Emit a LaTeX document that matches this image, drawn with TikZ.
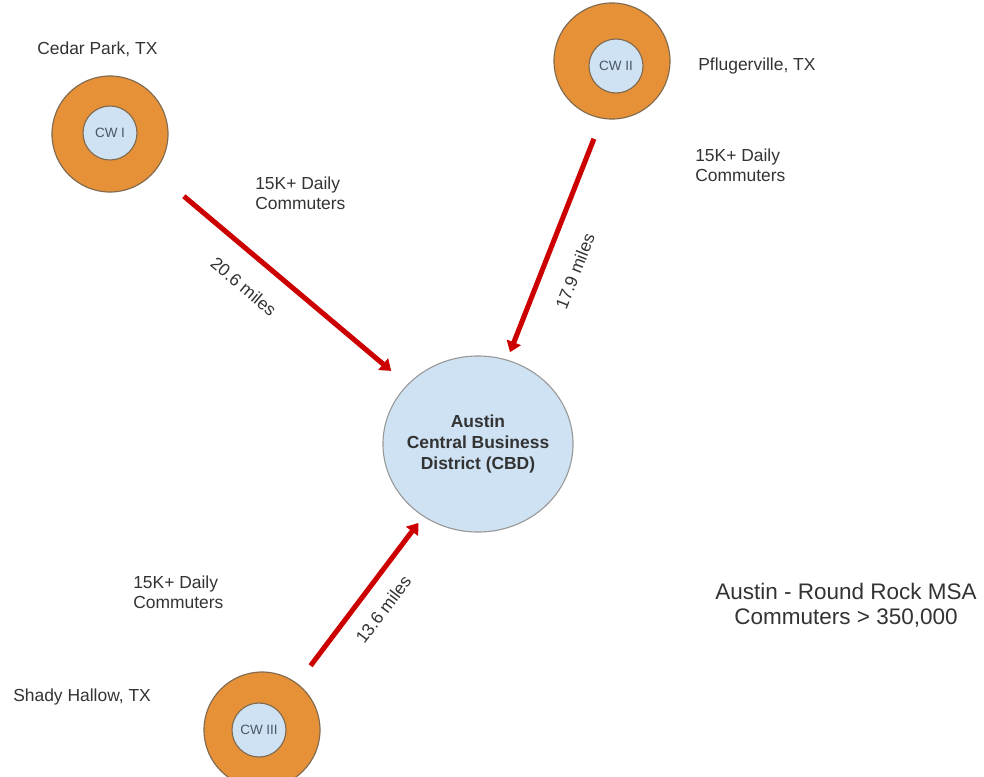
\documentclass[tikz,border=0pt]{standalone}
\usepackage{fontspec}
\setmainfont{Liberation Sans}
\usetikzlibrary{arrows.meta,positioning,shapes.geometric}
\definecolor{cworange}{HTML}{E69138}
\definecolor{cwblue}{HTML}{CFE2F3}
\definecolor{cwedge}{HTML}{7F6A4F}
\definecolor{cwred}{HTML}{CC0000}
\definecolor{cwlabel}{HTML}{4A5566}
\definecolor{txtgray}{HTML}{333333}
\tikzset{
  ring/.style={circle, draw=cwedge, fill=cworange, line width=0.8pt, minimum size=2.9cm, inner sep=0pt},
  core/.style={circle, draw=cwedge, fill=cwblue, line width=0.8pt, minimum size=1.35cm, inner sep=0pt, font=\fontsize{9.6}{11}\selectfont, text=cwlabel},
  hub/.style={ellipse, draw=gray!80, fill=cwblue, line width=0.8pt, minimum width=4.75cm, minimum height=4.4cm, inner sep=0pt},
  lbl/.style={font=\fontsize{12.4}{14.2}\selectfont, text=txtgray, inner sep=0pt, align=left},
  dist/.style={font=\fontsize{12.4}{14.2}\selectfont, text=txtgray, inner sep=0pt, sloped},
  arr/.style={-{Triangle[length=7.5pt,width=10.5pt]}, line width=3.6pt, cwred},
}
\begin{document}
\begin{tikzpicture}[x=0.025cm, y=-0.025cm]
  \useasboundingbox (0,0) rectangle (984,776);
  \clip (0,0) rectangle (984,776);

  % --- Hub ---
  \node[hub] (hub) at (478,444) {};
  \node[font=\bfseries\fontsize{12.4}{15}\selectfont, text=txtgray, align=center] (hubtxt) at (hub) {Austin\\Central Business\\District (CBD)};

  % --- Cedar Park ---
  \node[ring] (cedar) at (110,134) {};
  \node[core] (cw1) at (110,133) {CW I};
  \node[lbl, anchor=west] (cedarname) at (37,49) {Cedar Park, TX};
  \node[lbl, anchor=west] (cedarcount) at (255,193) {15K+ Daily\\Commuters};

  % --- Pflugerville ---
  \node[ring] (pflug) at (612,61) {};
  \node[core] (cw2) at (616,66) {CW II};
  \node[lbl, anchor=west] (pflugname) at (698,66) {Pflugerville, TX};
  \node[lbl, anchor=west] (pflugcount) at (695,165) {15K+ Daily\\Commuters};

  % --- Shady Hallow ---
  \node[ring] (shady) at (262,730) {};
  \node[core] (cw3) at (259,730) {CW III};
  \node[lbl, anchor=west] (shadyname) at (13,697) {Shady Hallow, TX};
  \node[lbl, anchor=west] (shadycount) at (133,592) {15K+ Daily\\Commuters};

  % Commute arrows
  \draw[arr, shorten <=0.95cm, shorten >=0.525cm] (cedar) -- node[dist, pos=0.43, below=0.54cm] {20.6 miles} (hub);
  \draw[arr, shorten <=0.54cm, shorten >=0.2cm] (pflug.-100) -- node[dist, pos=0.587, below=0.55cm] {17.9 miles} (hub.71);
  \draw[arr, shorten <=0.55cm, shorten >=0.2cm] (shady) -- node[dist, pos=0.53, below=0.38cm] {13.6 miles} (hub);

  % --- Region total ---
  \node[font=\fontsize{16}{17.8}\selectfont, text=txtgray, align=center] (msa) at (846,605) {Austin - Round Rock MSA\\Commuters > 350,000};
\end{tikzpicture}
\end{document}
